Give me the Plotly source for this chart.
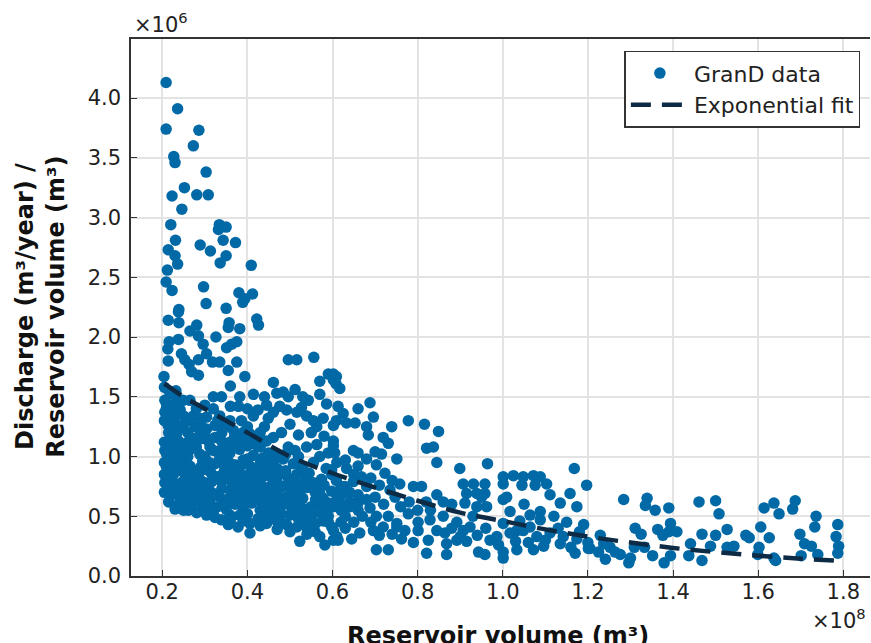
import plotly.graph_objects as go

# GranD data: reservoir volume (x1e8 m3) vs discharge/volume (x1e6)
pts_upper = [(0.209,4.13),(0.236,3.91),(0.209,3.74),(0.286,3.73),(0.273,3.60),(0.227,3.51),(0.230,3.46),(0.303,3.38),(0.252,3.25),(0.223,3.18),(0.281,3.19),(0.308,3.19),(0.246,3.07),(0.220,2.94),(0.334,2.94),(0.350,2.92),(0.332,2.90),(0.231,2.81),(0.343,2.81),(0.372,2.79),(0.289,2.77),(0.214,2.73),(0.313,2.72),(0.230,2.68),(0.236,2.61),(0.350,2.68),(0.336,2.62),(0.409,2.60),(0.212,2.56),(0.209,2.46),(0.223,2.39),(0.297,2.42),(0.380,2.37),(0.394,2.32),(0.412,2.36),(0.389,2.29),(0.303,2.28),(0.239,2.23),(0.350,2.24)]

pts_upper_mid = [(0.238,2.21),(0.214,2.14),(0.239,2.12),(0.281,2.10),(0.357,2.12),(0.355,2.08),(0.422,2.15),(0.426,2.10),(0.265,2.05),(0.285,2.01),(0.382,2.07),(0.216,1.96),(0.238,1.98),(0.326,2.00),(0.363,1.94),(0.375,1.96),(0.213,1.90),(0.296,1.94),(0.304,1.86),(0.351,1.91),(0.245,1.86),(0.253,1.81),(0.263,1.77),(0.214,1.80),(0.285,1.81),(0.318,1.79),(0.335,1.79),(0.375,1.79),(0.496,1.81),(0.516,1.81),(0.556,1.83),(0.269,1.71),(0.285,1.68),(0.355,1.72),(0.394,1.67),(0.204,1.67),(0.570,1.63),(0.590,1.69),(0.602,1.64),(0.461,1.62),(0.360,1.59)]

pts_dense_left = [(0.414,1.52),(0.469,1.53),(0.484,1.54),(0.512,1.56),(0.496,1.50),(0.320,1.50),(0.339,1.50),(0.382,1.50),(0.543,1.47),(0.206,1.47),(0.218,1.43),(0.234,1.46),(0.249,1.47),(0.265,1.47),(0.379,1.42),(0.445,1.43),(0.425,1.39),(0.414,1.34),(0.476,1.42),(0.492,1.39),(0.516,1.37),(0.527,1.41),(0.586,1.44),(0.206,1.37),(0.226,1.36),(0.242,1.39),(0.273,1.34),(0.288,1.32),(0.304,1.33),(0.335,1.34),(0.359,1.30),(0.386,1.30),(0.449,1.32),(0.461,1.37),(0.539,1.34),(0.555,1.30),(0.563,1.25),(0.602,1.26),(0.578,1.32),(0.214,1.26),(0.234,1.25),(0.249,1.26),(0.277,1.25),(0.304,1.23),(0.324,1.26),(0.347,1.25),(0.367,1.22),(0.390,1.20),(0.406,1.19),(0.222,1.17),(0.238,1.13),(0.249,1.10),(0.273,1.15),(0.292,1.15),(0.308,1.13),(0.324,1.16),(0.339,1.13),(0.359,1.12),(0.375,1.10),(0.398,1.13),(0.418,1.16),(0.445,1.13),(0.461,1.16),(0.496,1.08),(0.512,1.05),(0.539,1.08),(0.563,1.10),(0.602,1.13),(0.590,1.03),(0.206,1.05),(0.226,1.02),(0.242,1.05),(0.265,1.06),(0.288,1.02),(0.312,1.08),(0.335,1.05),(0.359,1.03),(0.382,1.06),(0.414,1.01),(0.437,0.99),(0.461,0.96),(0.484,0.98),(0.508,0.94),(0.531,0.89),(0.555,0.95),(0.210,0.91),(0.226,0.85),(0.245,0.88),(0.265,0.92),(0.285,0.85),(0.304,0.89),(0.324,0.94),(0.347,0.91),(0.367,0.86),(0.382,0.91),(0.406,0.92),(0.425,0.88),(0.441,0.84),(0.457,0.89),(0.476,0.85),(0.496,0.82),(0.516,0.85),(0.539,0.82),(0.555,0.78),(0.574,0.81),(0.598,0.85),(0.206,0.78),(0.218,0.74),(0.234,0.77),(0.249,0.79),(0.265,0.79),(0.281,0.75),(0.300,0.78),(0.316,0.79),(0.339,0.79),(0.359,0.72),(0.375,0.78),(0.394,0.75),(0.414,0.74),(0.433,0.70),(0.449,0.74),(0.469,0.71),(0.484,0.75),(0.504,0.71),(0.523,0.68),(0.539,0.74),(0.559,0.70),(0.578,0.65),(0.598,0.71),(0.610,0.64),(0.222,0.68),(0.242,0.65),(0.257,0.63),(0.273,0.65),(0.292,0.61),(0.312,0.64),(0.332,0.67),(0.351,0.64),(0.371,0.60),(0.390,0.64),(0.410,0.61),(0.429,0.63),(0.449,0.58),(0.465,0.63),(0.484,0.60),(0.504,0.57),(0.523,0.60),(0.543,0.56),(0.563,0.61),(0.582,0.57),(0.602,0.58),(0.238,0.60),(0.261,0.55),(0.281,0.53),(0.300,0.55),(0.339,0.47),(0.355,0.43),(0.378,0.41),(0.406,0.44),(0.425,0.48),(0.445,0.44),(0.469,0.46),(0.492,0.43),(0.516,0.41),(0.406,0.36),(0.457,0.51),(0.476,0.48),(0.539,0.44),(0.559,0.37),(0.578,0.46),(0.598,0.41),(0.523,0.29),(0.582,0.26),(0.602,0.30),(0.359,0.51),(0.382,0.51),(0.304,0.51),(0.324,0.49)]

pts_dense_extra = [(0.205,1.58),(0.215,1.55),(0.225,1.52),(0.205,1.30),(0.215,1.20),(0.205,1.12),(0.215,0.98),(0.205,0.95),(0.220,0.88),(0.205,0.85),(0.215,0.62),(0.230,0.56),(0.205,0.70),(0.228,0.93),(0.232,1.08),(0.228,1.30),(0.225,1.42),(0.232,1.55),(0.210,1.02),(0.255,0.72),(0.270,0.60),(0.290,0.70),(0.310,0.72),(0.330,0.58),(0.350,0.56),(0.370,0.68),(0.390,0.56),(0.410,0.68),(0.430,0.55),(0.255,0.97),(0.275,0.88),(0.295,0.96),(0.315,0.86),(0.335,0.99),(0.355,0.96),(0.370,0.93),(0.395,0.84),(0.420,0.81),(0.440,0.93),(0.255,0.84),(0.320,0.54),(0.260,1.00),(0.250,0.55),(0.270,0.78),(0.350,0.83),(0.400,0.98),(0.430,0.78),(0.460,0.80),(0.450,0.65),(0.470,0.55),(0.490,0.66),(0.510,0.64),(0.530,0.52),(0.550,0.50),(0.570,0.53),(0.590,0.50),(0.520,0.48),(0.500,0.51),(0.560,0.64),(0.580,0.76),(0.520,0.77),(0.470,0.90),(0.490,1.02),(0.450,1.03),(0.430,1.08),(0.400,1.09),(0.370,1.17),(0.340,1.20),(0.290,1.20),(0.260,1.20),(0.260,1.30),(0.320,1.40),(0.360,1.42),(0.300,1.43),(0.280,1.40),(0.400,1.40),(0.440,1.25),(0.480,1.20),(0.520,1.18),(0.550,1.20),(0.580,1.17),(0.500,1.27),(0.530,1.50),(0.570,1.52),(0.440,1.50)]

pts_dense_core = [(0.215,0.80),(0.230,0.71),(0.245,0.74),(0.260,0.69),(0.275,0.71),(0.285,0.64),(0.300,0.66),(0.320,0.69),(0.340,0.73),(0.345,0.60),(0.365,0.64),(0.380,0.72),(0.400,0.70),(0.420,0.66),(0.440,0.62),(0.455,0.71),(0.475,0.66),(0.495,0.61),(0.515,0.71),(0.530,0.65),(0.550,0.58),(0.570,0.69),(0.590,0.61),(0.245,0.96),(0.235,0.90),(0.255,0.90),(0.290,0.91),(0.310,0.95),(0.330,0.83),(0.345,0.87),(0.360,0.80),(0.385,0.82),(0.405,0.80),(0.415,0.87),(0.430,0.94),(0.450,0.86),(0.470,0.78),(0.490,0.88),(0.505,0.78),(0.525,0.92),(0.545,0.86),(0.565,0.76),(0.585,0.90),(0.290,0.80),(0.310,0.60),(0.255,0.60),(0.270,0.84),(0.230,1.00),(0.300,1.00),(0.350,1.00),(0.390,0.97),(0.470,1.02),(0.520,1.00),(0.570,1.00),(0.480,0.52),(0.440,0.50),(0.400,0.52),(0.510,0.55),(0.590,0.45),(0.620,0.55),(0.640,0.62),(0.660,0.55),(0.680,0.64),(0.620,0.75),(0.650,0.85),(0.610,0.95),(0.560,0.44),(0.540,0.40),(0.620,0.45),(0.220,1.10),(0.235,1.20),(0.260,1.12),(0.280,1.08),(0.300,1.18),(0.320,1.05),(0.350,1.08),(0.380,1.14),(0.420,1.10),(0.250,1.34),(0.290,1.27),(0.210,1.41),(0.225,1.30),(0.330,1.30),(0.400,1.25),(0.430,1.20)]

pts_middle = [(0.602,1.69),(0.609,1.67),(0.617,1.57),(0.608,1.61),(0.613,1.42),(0.625,1.36),(0.609,1.30),(0.633,1.28),(0.653,1.28),(0.660,1.40),(0.688,1.45),(0.696,1.33),(0.680,1.25),(0.684,1.18),(0.719,1.16),(0.739,1.25),(0.731,1.11),(0.778,1.30),(0.816,1.27),(0.849,1.21),(0.821,1.07),(0.837,1.08),(0.845,0.95),(0.602,1.09),(0.605,1.03),(0.649,1.05),(0.660,1.03),(0.700,1.04),(0.715,1.02),(0.751,0.98),(0.703,0.93),(0.723,0.86),(0.899,0.90),(0.964,0.94),(0.598,0.89),(0.633,0.90),(0.609,0.80),(0.629,0.75),(0.649,0.79),(0.668,0.83),(0.680,0.75),(0.758,0.77),(0.790,0.75),(0.809,0.75),(0.845,0.68),(0.735,0.72),(0.747,0.66),(0.907,0.77),(0.931,0.77),(0.958,0.77),(0.915,0.69),(0.939,0.69),(0.958,0.69),(0.911,0.61),(0.939,0.58),(1.001,0.83),(1.025,0.84),(1.048,0.83),(1.072,0.84),(1.088,0.83),(1.103,0.77),(1.001,0.77),(1.045,0.76),(1.076,0.76),(1.168,0.90),(1.197,0.76),(1.001,0.64),(1.017,0.54),(1.001,0.44),(1.033,0.38),(1.064,0.51),(1.088,0.54),(1.111,0.68),(1.135,0.61),(1.158,0.69),(1.174,0.58),(1.190,0.43),(0.617,0.61),(0.641,0.58),(0.660,0.61),(0.688,0.57),(0.703,0.50),(0.731,0.50),(0.751,0.44),(0.778,0.52),(0.801,0.45),(0.829,0.47),(0.845,0.38),(0.864,0.36),(0.892,0.45),(0.907,0.38),(0.923,0.41),(0.602,0.38),(0.613,0.30),(0.645,0.31),(0.664,0.36),(0.696,0.38),(0.719,0.41),(0.751,0.41),(0.762,0.31),(0.801,0.38),(0.825,0.30),(0.868,0.27),(0.892,0.30),(0.915,0.29),(0.703,0.22),(0.731,0.22),(0.821,0.19),(0.868,0.18),(0.943,0.20),(0.958,0.18),(0.986,0.33),(1.017,0.36),(1.048,0.38),(1.080,0.33),(1.111,0.36),(1.142,0.33),(1.174,0.31),(1.201,0.23),(1.001,0.20),(1.033,0.22),(1.072,0.22),(1.096,0.25),(1.135,0.27),(1.170,0.19),(1.001,0.15),(1.009,0.66),(0.962,0.58),(0.950,0.66),(1.064,0.41),(1.088,0.47)]

pts_middle_extra = [(0.360,0.47),(0.390,0.46),(0.430,0.42),(0.470,0.39),(0.500,0.37),(0.540,0.35),(0.570,0.33),(0.610,0.33),(0.630,0.40),(0.630,0.50),(0.650,0.45),(0.670,0.50),(0.690,0.45),(0.710,0.34),(0.740,0.35),(0.770,0.38),(0.790,0.28),(0.800,0.55),(0.830,0.55),(0.860,0.50),(0.880,0.40),(0.900,0.33),(0.940,0.34),(0.960,0.40),(0.970,0.30),(0.930,0.50),(0.880,0.60),(0.860,0.62),(0.820,0.62),(0.780,0.62),(0.760,0.58),(0.720,0.60),(0.700,0.66),(0.660,0.68),(0.640,0.70),(0.620,0.68),(0.690,0.82),(0.710,0.76),(0.740,0.80),(0.660,0.92),(0.630,0.97),(0.680,0.98),(0.990,0.26),(1.030,0.29),(1.060,0.28),(1.100,0.30),(1.130,0.40),(1.150,0.45),(1.120,0.50),(1.050,0.60),(1.040,0.46),(1.180,0.37),(1.160,0.24),(1.200,0.28)]

pts_right = [(1.284,0.64),(1.339,0.65),(1.335,0.59),(1.358,0.55),(1.390,0.57),(1.461,0.62),(1.500,0.63),(1.508,0.52),(1.614,0.57),(1.637,0.61),(1.649,0.52),(1.681,0.56),(1.687,0.63),(1.736,0.50),(1.733,0.41),(1.787,0.43),(1.783,0.33),(1.789,0.25),(1.787,0.19),(1.229,0.34),(1.237,0.27),(1.252,0.24),(1.264,0.20),(1.241,0.14),(1.276,0.18),(1.300,0.15),(1.296,0.11),(1.205,0.23),(1.225,0.20),(1.311,0.40),(1.325,0.35),(1.309,0.24),(1.333,0.24),(1.352,0.17),(1.364,0.39),(1.376,0.34),(1.394,0.44),(1.390,0.37),(1.409,0.37),(1.379,0.11),(1.394,0.17),(1.441,0.27),(1.437,0.17),(1.468,0.35),(1.468,0.13),(1.488,0.25),(1.500,0.34),(1.527,0.39),(1.527,0.24),(1.543,0.25),(1.571,0.34),(1.579,0.32),(1.602,0.24),(1.606,0.41),(1.626,0.32),(1.599,0.18),(1.637,0.15),(1.641,0.13),(1.698,0.35),(1.709,0.27),(1.725,0.25),(1.701,0.17),(1.740,0.18)]

# Exponential fit
fit_x = [0.205, 0.25, 0.3, 0.4, 0.5, 0.6, 0.7, 0.8, 0.9, 1.0, 1.1, 1.2, 1.3, 1.4, 1.5, 1.6, 1.7, 1.787]
fit_y = [1.61, 1.50, 1.40, 1.20, 1.00, 0.86, 0.74, 0.63, 0.53, 0.46, 0.39, 0.33, 0.28, 0.235, 0.20, 0.17, 0.145, 0.127]

x_ticks = [0.2, 0.4, 0.6, 0.8, 1.0, 1.2, 1.4, 1.6, 1.8]
y_ticks = [0.0, 0.5, 1.0, 1.5, 2.0, 2.5, 3.0, 3.5, 4.0]

all_pts = (pts_upper + pts_upper_mid + pts_dense_left + pts_dense_extra + pts_dense_core
           + pts_middle + pts_middle_extra + pts_right)
vol = [p[0] for p in all_pts]
ratio = [p[1] for p in all_pts]

FONT = "DejaVu Sans"
fig = go.Figure()
fig.add_trace(go.Scatter(
    x=vol, y=ratio, mode="markers", name="GranD data",
    marker=dict(size=11.5, color="#0069a6", line=dict(width=0)),
))
fig.add_trace(go.Scatter(
    x=fit_x, y=fit_y, mode="lines", name="Exponential fit",
    line=dict(color="#0d2b45", width=4.5, dash="20px,11px", shape="spline"),
))

axis_common = dict(
    showline=True, linecolor="#333333", linewidth=1.5,
    ticks="inside", ticklen=6, tickwidth=1.2, tickcolor="#333333",
    showgrid=True, gridcolor="#e3e3e3", gridwidth=1.5,
    zeroline=False,
    tickfont=dict(family=FONT, size=21, color="#222222"),
)
fig.update_xaxes(range=[0.1265, 1.8627], tickvals=x_ticks,
                 ticktext=[f"{v:.1f}" for v in x_ticks], mirror=True,
                 ticklabelstandoff=-4, **axis_common)
fig.update_yaxes(range=[0, 4.494], tickvals=y_ticks,
                 ticktext=[f"{v:.1f}" for v in y_ticks],
                 ticklabelstandoff=4, **axis_common)

fig.update_layout(
    width=871, height=643,
    margin=dict(l=131, r=1, t=39, b=67),
    plot_bgcolor="white", paper_bgcolor="white",
    font=dict(family=FONT, color="#111111"),
    legend=dict(
        x=0.987, y=0.978, xanchor="right", yanchor="top",
        bgcolor="white", bordercolor="#333333", borderwidth=1.5,
        font=dict(family=FONT, size=22, color="#222222"),
        itemwidth=58, tracegroupgap=0,
    ),
    showlegend=True,
    annotations=[
        dict(text="<b>Discharge (m³/year) /<br>Reservoir volume (m³)</b>",
             xref="paper", yref="paper", x=-0.1218, y=0.5015,
             xanchor="center", yanchor="middle", textangle=-90, showarrow=False,
             font=dict(family=FONT, size=24, color="#111111")),
        dict(text="<b>Reservoir volume (m³)</b>",
             xref="paper", yref="paper", x=0.496, y=-0.112,
             xanchor="center", yanchor="middle", showarrow=False,
             font=dict(family=FONT, size=24, color="#111111")),
        dict(text="×10<sup>6</sup>", xref="paper", yref="paper", x=0.002, y=1.03,
             xanchor="left", yanchor="middle", showarrow=False,
             font=dict(family=FONT, size=21, color="#222222")),
        dict(text="×10<sup>8</sup>", xref="paper", yref="paper", x=0.997, y=-0.08,
             xanchor="right", yanchor="middle", showarrow=False,
             font=dict(family=FONT, size=21, color="#222222")),
    ],
)

fig.write_html("out.html")
